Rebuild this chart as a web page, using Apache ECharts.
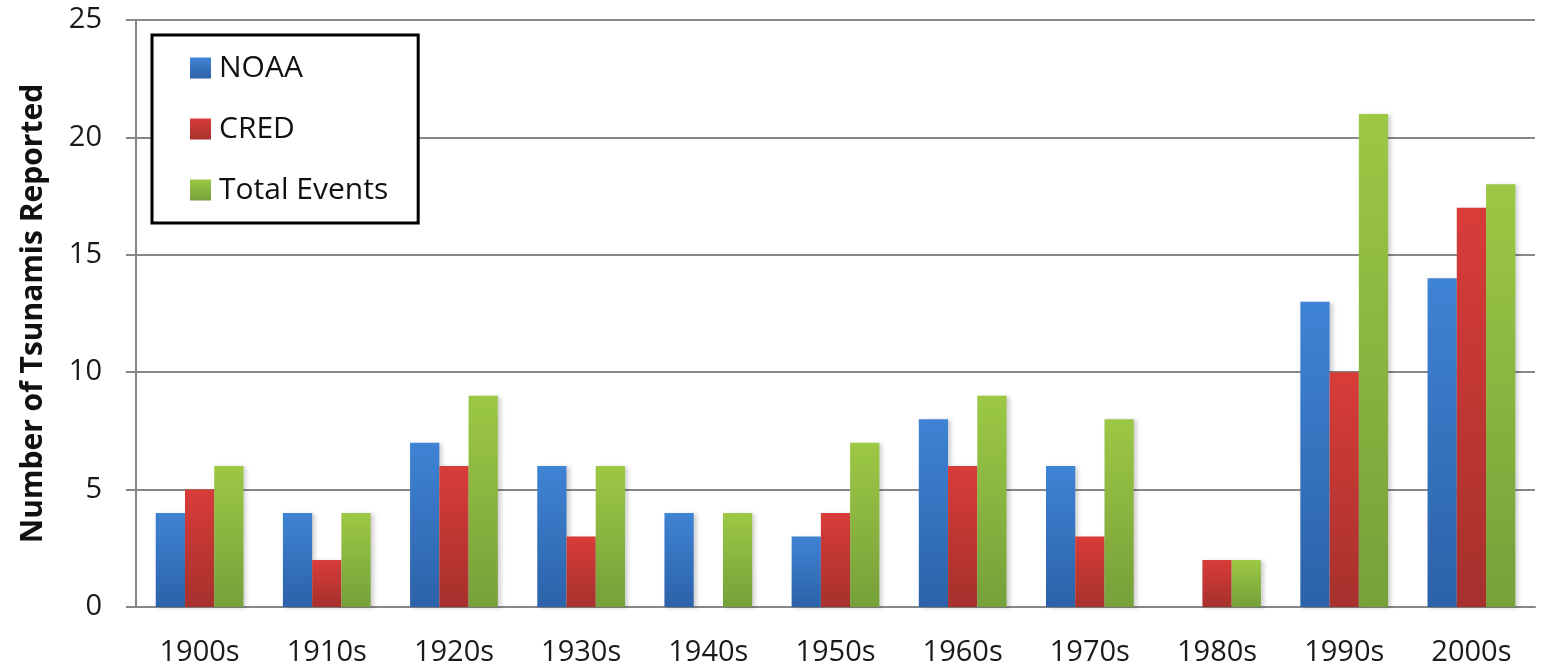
<!DOCTYPE html>
<html>
<head>
<meta charset="utf-8">
<script src="https://cdn.jsdelivr.net/npm/echarts@6/dist/echarts.min.js"></script>
<style>
  html, body { margin: 0; padding: 0; background: #fff; }
  #main { width: 1547px; height: 672px; }
</style>
</head>
<body>
<div id="main"></div>
<script>
// decades on the x axis
var decades = ['1900s', '1910s', '1920s', '1930s', '1940s', '1950s', '1960s', '1970s', '1980s', '1990s', '2000s'];
// tsunamis reported per decade
var noaa  = [4, 4, 7, 6, 4, 3, 8, 6, 0, 13, 14];
var cred  = [5, 2, 6, 3, 0, 4, 6, 3, 2, 10, 17];
var total = [6, 4, 9, 6, 4, 7, 9, 8, 2, 21, 18];

var FONT = '"Open Sans", "Liberation Sans", sans-serif';

function grad(top, bottom) {
  return {
    type: 'linear', x: 0, y: 0, x2: 0, y2: 1,
    colorStops: [{ offset: 0, color: top }, { offset: 1, color: bottom }]
  };
}

function barSeries(name, data, top, bottom) {
  return {
    name: name,
    type: 'bar',
    data: data,
    barGap: '0%',
    barCategoryGap: '31%',
    itemStyle: {
      color: grad(top, bottom),
      shadowColor: 'rgba(0,0,0,0.18)',
      shadowBlur: 4,
      shadowOffsetX: 3,
      shadowOffsetY: 1
    }
  };
}

var chart = echarts.init(document.getElementById('main'));
chart.setOption({
  animation: false,
  textStyle: { fontFamily: FONT },
  grid: { left: 136, right: 12, top: 20, bottom: 65 },
  legend: {
    orient: 'vertical',
    left: 152,
    top: 35,
    backgroundColor: '#fff',
    borderColor: '#000',
    borderWidth: 3,
    borderRadius: 0,
    padding: [18, 30, 18, 38],
    itemGap: 31,
    itemWidth: 21,
    itemHeight: 21,
    icon: 'rect',
    textStyle: { fontFamily: FONT, fontSize: 30, color: '#111', padding: [0, 0, 0, 3] },
    data: ['NOAA', 'CRED', 'Total Events']
  },
  xAxis: {
    type: 'category',
    data: decades,
    axisLine: { lineStyle: { color: '#878787', width: 2 } },
    axisTick: { length: 11, lineStyle: { color: '#878787', width: 2 } },
    axisLabel: { fontFamily: FONT, fontSize: 29, color: '#1a1a1a', margin: 31 }
  },
  yAxis: {
    type: 'value',
    min: 0,
    max: 25,
    interval: 5,
    name: 'Number of Tsunamis Reported',
    nameLocation: 'middle',
    nameGap: 88,
    nameTextStyle: { fontFamily: FONT, fontSize: 30, fontWeight: 'bold', color: '#111' },
    axisLine: { show: true, lineStyle: { color: '#878787', width: 2 } },
    axisTick: { show: true, length: 10, lineStyle: { color: '#878787', width: 2 } },
    axisLabel: { fontFamily: FONT, fontSize: 29, color: '#1a1a1a', margin: 34 },
    splitLine: { lineStyle: { color: '#878787', width: 2 } }
  },
  series: [
    barSeries('NOAA', noaa, '#3f83d4', '#2c62a9'),
    barSeries('CRED', cred, '#d83c39', '#a6312d'),
    barSeries('Total Events', total, '#9cc845', '#76a03a')
  ]
});
</script>
</body>
</html>
